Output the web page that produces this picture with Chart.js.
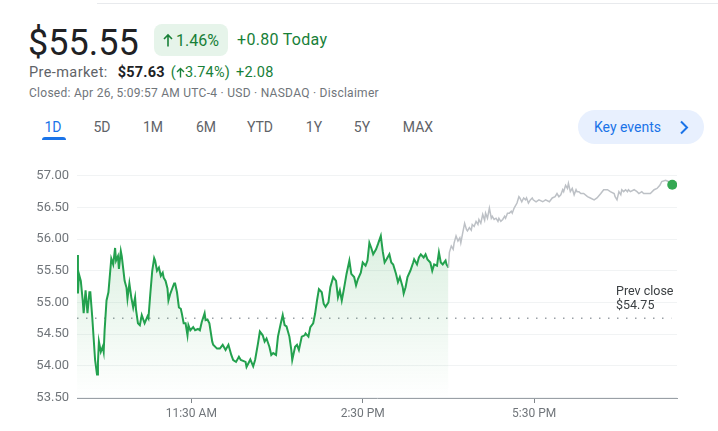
<!DOCTYPE html>
<html lang="en">
<head>
  <meta charset="UTF-8">
  <title>$55.55 - 1D</title>
  <script src="https://cdn.jsdelivr.net/npm/chart.js"></script>
  <style>
    body {
      margin: 0;
      width: 718px;
      height: 431px;
      position: relative;
      overflow: hidden;
      background: #fff;
      font-family: Roboto, Arial, sans-serif;
    }
    .abs { position: absolute; white-space: nowrap; }
    .topline { left: 97px; top: 3px; width: 621px; height: 1px; background: #e8eaed; }
    .price { left: 28px; top: 25px; font-size: 36px; line-height: 36px; color: #202124; }
    .badge {
      left: 154px; top: 24px; width: 74px; height: 32px; border-radius: 8px;
      background: #e6f4ea; color: #188038; font-size: 16px; font-weight: 400;
      display: flex; align-items: center; justify-content: center; gap: 3px;
    }
    .today { left: 237px; top: 30px; line-height: 20px; font-size: 16px; font-weight: 400; color: #188038; letter-spacing: 0.3px; }
    .pre { left: 29px; top: 64px; line-height: 18px; font-size: 14.5px; color: #5f6368; letter-spacing: 0.4px; }
    .pre b { color: #202124; font-weight: 700; margin-left: 6px; letter-spacing: 0.2px; }
    .pre .up { color: #188038; margin-left: 6px; letter-spacing: 0.2px; }
    .closed { left: 29px; top: 85px; line-height: 16px; font-size: 12px; color: #70757a; letter-spacing: 0.27px; }
    .tab { top: 118px; width: 44px; text-align: center; line-height: 18px; font-size: 14px; font-weight: 400; color: #5f6368; }
    .tab.on { color: #1a73e8; }
    .underline { left: 42px; top: 137px; width: 24px; height: 3px; background: #1a73e8; border-radius: 3px 3px 0 0; }
    .keys {
      left: 578px; top: 110px; width: 126px; height: 34px; border-radius: 17px;
      background: #e8f0fe; color: #1a73e8; font-size: 14px; font-weight: 400;
      line-height: 34px; padding-left: 16px; box-sizing: border-box;
    }
    .keys svg { position: absolute; left: 101px; top: 10px; }
    .chartbox { left: 0; top: 160px; width: 718px; height: 271px; }
    .prevlbl { left: 616px; top: 284px; font-size: 12.5px; line-height: 14px; color: #3c4043; }
  </style>
</head>
<body>
  <div class="abs topline"></div>
  <div class="abs price">$55.55</div>
  <div class="abs badge">
    <svg width="10" height="14" viewBox="0 0 10 14"><path d="M5 13.5V2M1 6L5 2L9 6" fill="none" stroke="#188038" stroke-width="1.6"/></svg>
    <span>1.46%</span>
  </div>
  <div class="abs today">+0.80 Today</div>
  <div class="abs pre">Pre-market: <b>$57.63</b><span class="up">(<svg width="9" height="11" viewBox="0 0 9 11" style="vertical-align:-1px"><path d="M4.5 10.5V1.5M1 5L4.5 1.5L8 5" fill="none" stroke="#188038" stroke-width="1.4"/></svg>3.74%)</span><span class="up">+2.08</span></div>
  <div class="abs closed">Closed: Apr 26, 5:09:57 AM UTC-4 · USD · NASDAQ · Disclaimer</div>

  <div class="abs tab on" style="left:31px">1D</div>
  <div class="abs tab" style="left:80px">5D</div>
  <div class="abs tab" style="left:131px">1M</div>
  <div class="abs tab" style="left:184px">6M</div>
  <div class="abs tab" style="left:238px">YTD</div>
  <div class="abs tab" style="left:292px">1Y</div>
  <div class="abs tab" style="left:340px">5Y</div>
  <div class="abs tab" style="left:396px">MAX</div>
  <div class="abs underline"></div>
  <div class="abs keys">Key events
    <svg width="10" height="15" viewBox="0 0 10 15"><path d="M2 1.5L8 7.5L2 13.5" fill="none" stroke="#1a73e8" stroke-width="2"/></svg>
  </div>

  <div class="abs chartbox"><canvas id="chart"></canvas></div>
  <div class="abs prevlbl">Prev close<br>$54.75</div>

  <script>
    // minutes after 9:30 AM, regular session
    const sessionMinutes = [
      0, 1, 2, 4, 6, 7, 9, 11, 13, 14,
      16, 19, 21, 22, 23, 25, 27, 28, 29, 31,
      33, 36, 38, 40, 41, 43, 44, 46, 47, 50,
      52, 53, 55, 57, 59, 61, 62, 64, 66, 68,
      71, 74, 75, 77, 79, 81, 82, 84, 86, 88,
      90, 91, 93, 95, 96, 98, 100, 102, 103, 105,
      107, 109, 110, 112, 114, 116, 117, 119, 122, 124,
      127, 129, 131, 134, 135, 137, 139, 142, 143, 147,
      150, 153, 156, 159, 162, 164, 167, 170, 172, 177,
      178, 180, 182, 185, 187, 190, 192, 195, 197, 199,
      202, 204, 206, 209, 211, 214, 216, 218, 220, 223,
      225, 226, 229, 231, 233, 236, 239, 240, 243, 245,
      248, 250, 252, 254, 257, 259, 261, 264, 266, 269,
      272, 274, 276, 278, 280, 283, 286, 288, 291, 293,
      295, 298, 300, 303, 305, 307, 309, 311, 314, 316,
      319, 321, 323, 325, 328, 330, 332, 335, 337, 339,
      342, 343, 345, 347, 350, 353, 354, 357, 359, 361,
      364, 366, 368, 371, 373, 375, 378, 380, 382, 384,
      387, 388, 390
    ];
    const sessionPrices = [
      55.75, 55.14, 55.45, 55.34, 55.03, 54.83, 55.19, 54.83, 55.16, 55.16,
      54.77, 54.09, 53.86, 54.05, 54.38, 54.22, 54.30, 54.22, 54.56, 55.03,
      55.16, 55.69, 55.60, 55.86, 55.66, 55.73, 55.53, 55.81, 55.73, 55.34,
      55.23, 55.06, 55.30, 55.08, 54.92, 55.08, 54.88, 54.67, 54.64, 54.80,
      54.67, 54.78, 54.75, 55.14, 55.50, 55.70, 55.66, 55.50, 55.55, 55.42,
      55.47, 55.39, 55.34, 55.22, 55.03, 55.14, 55.22, 55.30, 55.30, 55.16,
      54.92, 54.90, 54.83, 54.67, 54.67, 54.48, 54.64, 54.56, 54.61, 54.56,
      54.58, 54.56, 54.69, 54.83, 54.72, 54.73, 54.67, 54.38, 54.33, 54.27,
      54.27, 54.33, 54.25, 54.33, 54.17, 54.09, 54.06, 54.14, 54.09, 54.06,
      53.98, 54.04, 54.10, 53.99, 54.09, 54.35, 54.54, 54.48, 54.38, 54.43,
      54.30, 54.17, 54.20, 54.17, 54.46, 54.67, 54.80, 54.64, 54.62, 54.46,
      54.25, 54.09, 54.30, 54.33, 54.25, 54.46, 54.48, 54.51, 54.46, 54.61,
      54.67, 54.82, 55.03, 55.21, 55.16, 54.98, 54.93, 55.00, 55.24, 55.40,
      55.34, 55.08, 55.19, 55.03, 55.19, 55.45, 55.66, 55.45, 55.40, 55.27,
      55.37, 55.47, 55.63, 55.58, 55.66, 55.94, 55.86, 55.76, 55.84, 55.92,
      56.05, 55.81, 55.63, 55.68, 55.76, 55.63, 55.60, 55.45, 55.32, 55.40,
      55.24, 55.14, 55.24, 55.40, 55.50, 55.63, 55.68, 55.60, 55.71, 55.76,
      55.71, 55.76, 55.68, 55.63, 55.50, 55.60, 55.58, 55.79, 55.63, 55.60,
      55.66, 55.60, 55.55
    ];
    // after hours, 4:00 PM to 8:00 PM
    const afterMinutes = [
      390, 391, 393, 395, 396, 398, 400, 402, 403, 405,
      407, 409, 410, 412, 414, 415, 417, 419, 421, 422,
      424, 426, 428, 429, 431, 433, 435, 436, 438, 440,
      442, 443, 445, 447, 449, 450, 452, 454, 456, 457,
      459, 462, 464, 465, 467, 469, 471, 472, 474, 476,
      478, 479, 482, 485, 489, 492, 496, 499, 502, 504,
      506, 508, 510, 511, 513, 515, 516, 518, 520, 522,
      524, 525, 527, 529, 532, 536, 539, 543, 546, 550,
      553, 557, 560, 564, 565, 567, 569, 571, 572, 574,
      576, 578, 579, 581, 585, 588, 590, 593, 595, 599,
      602, 606, 609, 612, 614, 618, 621, 625
    ];
    const afterPrices = [
      55.55, 55.79, 55.89, 55.84, 55.94, 56.05, 55.97, 56.02, 55.94, 56.10,
      56.25, 56.15, 56.13, 56.18, 56.14, 56.23, 56.20, 56.28, 56.23, 56.31,
      56.25, 56.39, 56.30, 56.41, 56.33, 56.49, 56.33, 56.36, 56.31, 56.33,
      56.28, 56.33, 56.28, 56.31, 56.36, 56.33, 56.41, 56.41, 56.44, 56.41,
      56.49, 56.57, 56.67, 56.65, 56.59, 56.65, 56.62, 56.65, 56.57, 56.62,
      56.65, 56.62, 56.59, 56.62, 56.59, 56.62, 56.59, 56.65, 56.67, 56.72,
      56.67, 56.70, 56.78, 56.75, 56.85, 56.80, 56.88, 56.75, 56.80, 56.70,
      56.78, 56.75, 56.75, 56.72, 56.72, 56.67, 56.65, 56.62, 56.65, 56.72,
      56.78, 56.78, 56.75, 56.72, 56.67, 56.62, 56.75, 56.70, 56.78, 56.75,
      56.78, 56.75, 56.78, 56.75, 56.78, 56.75, 56.72, 56.75, 56.72, 56.72,
      56.72, 56.78, 56.80, 56.85, 56.91, 56.93, 56.91, 56.86
    ];
    const prevClose = 54.75;
    const prevCloseSpan = [0, 624];
    const timeTicks = [120, 300, 480];
    const timeLabels = ['11:30 AM', '2:30 PM', '5:30 PM'];
    const priceTicks = [53.5, 54, 54.5, 55, 55.5, 56, 56.5, 57];

    function points(xs, ys) {
      return xs.map(function (x, i) { return { x: x, y: ys[i] }; });
    }

    function greenFill(context) {
      var chart = context.chart;
      var area = chart.chartArea;
      if (!area) return 'rgba(52,168,83,0.1)';
      var g = chart.ctx.createLinearGradient(0, area.top, 0, area.bottom);
      g.addColorStop(0, 'rgba(52,168,83,0.24)');
      g.addColorStop(1, 'rgba(52,168,83,0)');
      return g;
    }

    new Chart(document.getElementById('chart'), {
      type: 'line',
      data: {
        datasets: [{
          data: points(sessionMinutes, sessionPrices),
          borderColor: '#23a14e',
          borderWidth: 2,
          fill: 'start',
          backgroundColor: greenFill,
          pointRadius: 0,
          tension: 0,
          order: 1
        }, {
          data: points(afterMinutes, afterPrices),
          borderColor: '#bdc1c6',
          borderWidth: 1.5,
          fill: false,
          pointRadius: function (ctx) { return ctx.dataIndex === afterPrices.length - 1 ? 5 : 0; },
          pointBackgroundColor: '#34a853',
          pointBorderWidth: 0,
          tension: 0,
          order: 0
        }, {
          data: points(prevCloseSpan, [prevClose, prevClose]),
          borderColor: '#9aa0a6',
          borderWidth: 1.5,
          borderDash: [1.5, 7.5],
          fill: false,
          pointRadius: 0,
          order: 2
        }]
      },
      options: {
        responsive: true,
        maintainAspectRatio: false,
        animation: false,
        layout: { padding: { top: 14, right: 41, left: 0, bottom: 0 } },
        plugins: {
          legend: { display: false },
          tooltip: { enabled: false }
        },
        scales: {
          x: {
            type: 'linear',
            min: 0,
            max: 630,
            afterBuildTicks: function (s) { s.ticks = timeTicks.map(function (v) { return { value: v }; }); },
            afterFit: function (s) { s.height = 33; },
            ticks: {
              callback: function (v, i) { return timeLabels[i]; },
              color: '#70757a',
              font: { family: 'Roboto', size: 12 },
              padding: 4,
              maxRotation: 0,
              autoSkip: false
            },
            grid: { drawOnChartArea: false, tickLength: 5, color: '#80868b' },
            border: { color: '#9aa0a6', width: 1 }
          },
          y: {
            min: 53.49,
            max: 57,
            afterBuildTicks: function (s) { s.ticks = priceTicks.map(function (v) { return { value: v }; }); },
            afterFit: function (s) { s.width = 77; },
            ticks: {
              callback: function (v) { return Number(v).toFixed(2); },
              color: '#70757a',
              font: { family: 'Roboto', size: 13 },
              padding: 8
            },
            grid: { color: '#f1f3f4', drawTicks: false },
            border: { display: false }
          }
        }
      }
    });
  </script>
</body>
</html>
